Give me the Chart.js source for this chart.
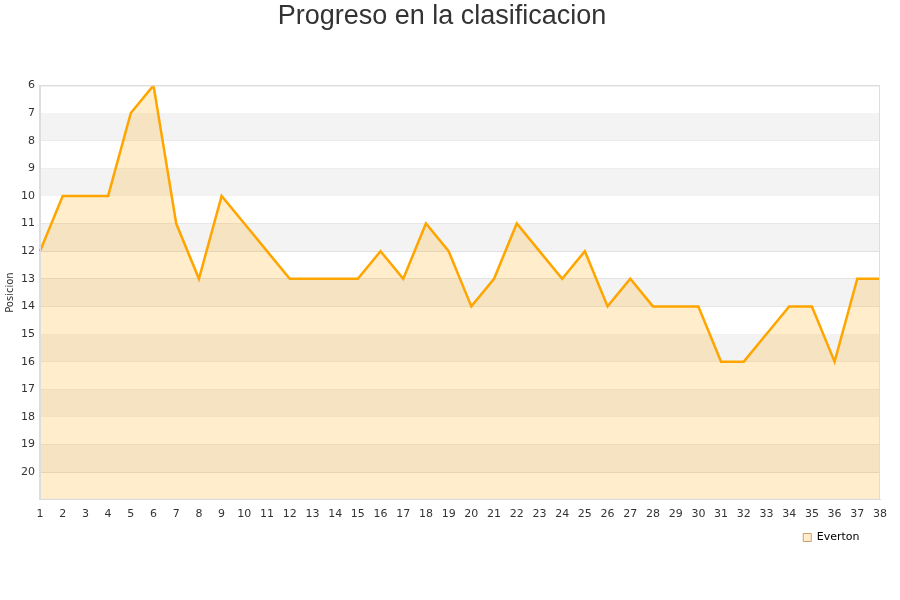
<!DOCTYPE html>
<html>
<head>
<meta charset="utf-8">
<script src="https://cdn.jsdelivr.net/npm/chart.js@4"></script>
<style>
  body { margin: 0; background: #fff; }
  #wrap { width: 900px; height: 600px; }
</style>
</head>
<body>
<div id="wrap"><canvas id="myChart" width="900" height="600"></canvas></div>
<script>
const jornadas = [];
for (let i = 1; i <= 38; i++) jornadas.push(String(i));
const posiciones = [12, 10, 10, 10, 7, 6, 11, 13, 10, 11, 12, 13, 13, 13, 13, 12, 13, 11, 12, 14,
                    13, 11, 12, 13, 12, 14, 13, 14, 14, 14, 16, 16, 15, 14, 14, 16, 13, 13];
const equipo = "Everton";

// alternating grey bands behind the line
const bandas = {
    id: "bandas",
    beforeDatasetsDraw(chart) {
        const { ctx, chartArea, scales } = chart;
        const y = scales.y;
        ctx.save();
        ctx.fillStyle = "#f3f3f3";
        for (let v = 7; v < 21; v += 2) {
            const top = y.getPixelForValue(v);
            const bottom = y.getPixelForValue(v + 1);
            ctx.fillRect(chartArea.left, top, chartArea.right - chartArea.left, bottom - top);
        }
        ctx.restore();
    }
};

const myChart = document.querySelector("#myChart").getContext("2d");
// eslint-disable-next-line no-unused-vars
const ourCanvas = new Chart(myChart, {
    type: "line",
    data: {
        labels: jornadas,
        datasets: [{
            label: equipo,
            data: posiciones,
            borderColor: "#ffa500",
            backgroundColor: "rgba(255,165,0,0.2)",
            borderWidth: 2.5,
            pointRadius: 0,
            tension: 0,
            fill: { value: 21 }
        }]
    },
    options: {
        responsive: false,
        animation: false,
        layout: { padding: { left: 4, right: 20, top: 0, bottom: 47 } },
        plugins: {
            title: {
                display: true,
                text: "Progreso en la clasificacion",
                color: "#333",
                font: { family: "Liberation Sans", size: 27, weight: "normal" },
                padding: { top: 0, bottom: 53 }
            },
            legend: {
                position: "bottom",
                align: "end",
                labels: {
                    boxWidth: 8,
                    boxHeight: 8,
                    padding: 3,
                    color: "#222",
                    font: { family: "DejaVu Sans", size: 11 },
                    generateLabels() {
                        return [{
                            text: equipo + "     ",
                            fillStyle: "#ffedcc",
                            strokeStyle: "#c8a070",
                            lineWidth: 1
                        }];
                    }
                }
            },
            tooltip: { enabled: false }
        },
        scales: {
            x: {
                offset: false,
                grid: { display: false, drawTicks: false },
                border: { color: "#ddd" },
                ticks: {
                    autoSkip: false,
                    maxRotation: 0,
                    padding: 8,
                    color: "#333",
                    font: { family: "DejaVu Sans", size: 11 }
                }
            },
            y: {
                reverse: true,
                min: 6,
                max: 21,
                grid: { color: "#ddd", drawTicks: false },
                border: { color: "#ddd" },
                ticks: {
                    stepSize: 1,
                    padding: 5,
                    color: "#333",
                    font: { family: "DejaVu Sans", size: 11 },
                    callback: (v) => v === 21 ? "" : v
                },
                title: {
                    display: true,
                    text: "Posicion",
                    color: "#333",
                    font: { family: "DejaVu Sans", size: 10 },
                    padding: 0
                }
            }
        }
    },
    plugins: [bandas, {
        id: "marco",
        afterDatasetsDraw(chart) {
            const { ctx, chartArea } = chart;
            ctx.save();
            ctx.strokeStyle = "#ddd";
            ctx.lineWidth = 1;
            ctx.strokeRect(chartArea.left + 0.5, chartArea.top + 0.5, chartArea.right - chartArea.left - 1, chartArea.bottom - chartArea.top - 1);
            ctx.restore();
        }
    }]
});
</script>
</body>
</html>
